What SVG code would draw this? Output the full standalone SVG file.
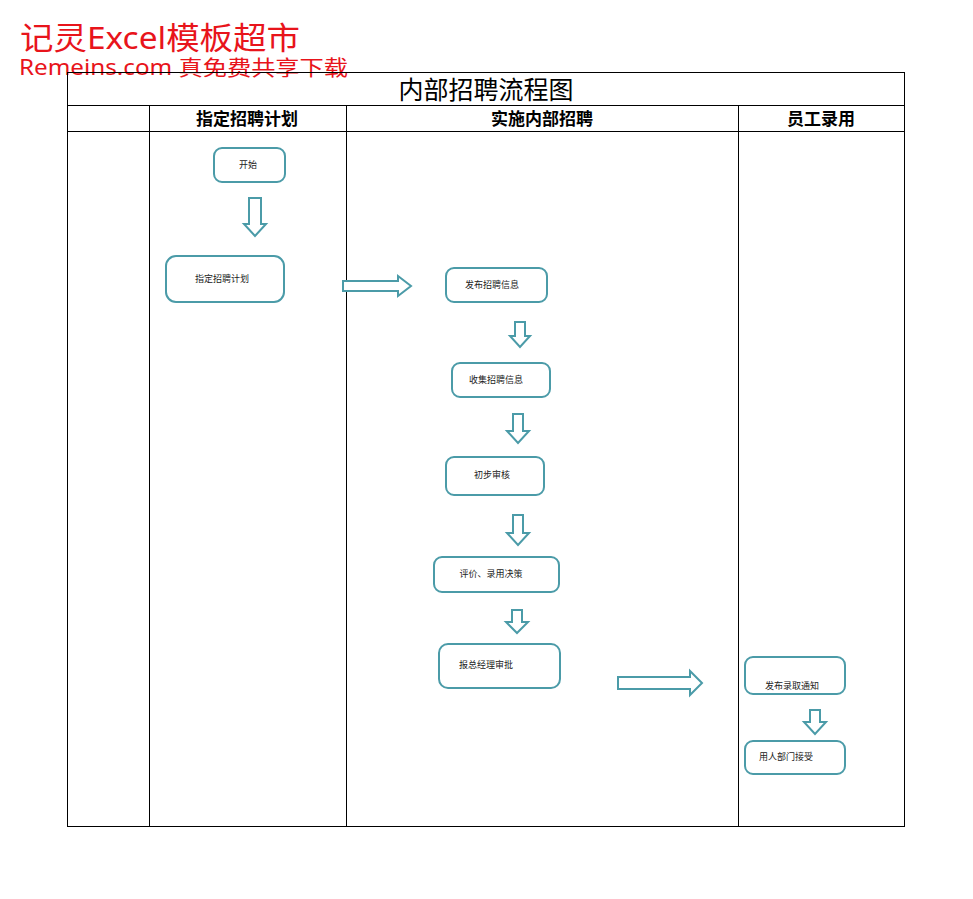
<svg xmlns="http://www.w3.org/2000/svg" width="973" height="899" viewBox="0 0 973 899">
<style>
.ln{stroke:#000;stroke-width:1;fill:none}
.nd{fill:#fff;stroke:#4b9ba8;stroke-width:2}
.ar{fill:#fff;stroke:#4b9ba8;stroke-width:2;stroke-linejoin:miter}
.t{font-family:"Noto Sans CJK SC",sans-serif;font-size:9px;fill:#222;text-anchor:middle}
.h{font-family:"Noto Sans CJK SC",sans-serif;font-size:17px;font-weight:bold;fill:#000;text-anchor:middle}
.wm{font-family:"Noto Sans","Noto Sans CJK SC",sans-serif;fill:#e8141b}
</style>
<rect width="973" height="899" fill="#fff"/>
<text class="wm" x="20" y="49" font-size="31" textLength="280" lengthAdjust="spacingAndGlyphs">记灵Excel模板超市</text>
<text class="wm" x="19" y="75" font-size="21" textLength="329" lengthAdjust="spacingAndGlyphs">Remeins.com 真免费共享下载</text>
<g id="table">
<rect class="ln" x="67.5" y="72.5" width="837" height="754"/>
<line class="ln" x1="67" y1="105.5" x2="905" y2="105.5"/>
<line class="ln" x1="67" y1="131.5" x2="905" y2="131.5"/>
<line class="ln" x1="149.5" y1="105" x2="149.5" y2="826"/>
<line class="ln" x1="346.5" y1="105" x2="346.5" y2="826"/>
<line class="ln" x1="738.5" y1="105" x2="738.5" y2="826"/>
<text x="486" y="99" font-family="Noto Sans CJK SC,sans-serif" font-size="25" text-anchor="middle" fill="#000">内部招聘流程图</text>
<text class="h" x="247" y="125">指定招聘计划</text>
<text class="h" x="542" y="125">实施内部招聘</text>
<text class="h" x="821" y="125">员工录用</text>
</g>
<g id="n1"><rect class="nd" x="214" y="148" width="71" height="34" rx="8"/><text class="t" x="248" y="168">开始</text></g>
<g id="n2"><rect class="nd" x="166" y="256" width="118" height="46" rx="10"/><text class="t" x="222" y="282">指定招聘计划</text></g>
<g id="n3"><rect class="nd" x="446" y="268" width="101" height="34" rx="8"/><text class="t" x="492" y="288">发布招聘信息</text></g>
<g id="n4"><rect class="nd" x="452" y="363" width="98" height="34" rx="8"/><text class="t" x="496" y="383">收集招聘信息</text></g>
<g id="n5"><rect class="nd" x="446" y="457" width="98" height="38" rx="8"/><text class="t" x="492" y="478">初步审核</text></g>
<g id="n6"><rect class="nd" x="434" y="557" width="125" height="35" rx="8"/><text class="t" x="491" y="577">评价、录用决策</text></g>
<g id="n7"><rect class="nd" x="439" y="644" width="121" height="44" rx="9"/><text class="t" x="486" y="668">报总经理审批</text></g>
<g id="n8"><rect class="nd" x="745" y="657" width="100" height="37" rx="8"/><text class="t" x="792" y="689">发布录取通知</text></g>
<g id="n9"><rect class="nd" x="745" y="741" width="100" height="33" rx="8"/><text class="t" x="786" y="760">用人部门接受</text></g>
<g id="connectors">
<polygon class="ar" points="249,198 261,198 261,224 266,224 255,236 244,224 249,224"/>
<polygon class="ar" points="343,281 398,281 398,276 411,286 398,296 398,291 343,291"/>
<polygon class="ar" points="515,322 525,322 525,336 530,336 520,347 510,336 515,336"/>
<polygon class="ar" points="513,414 523,414 523,431 529,431 518,443 507,431 513,431"/>
<polygon class="ar" points="513,515 523,515 523,533 529,533 518,545 507,533 513,533"/>
<polygon class="ar" points="512,610 522,610 522,622 528,622 517,633 506,622 512,622"/>
<polygon class="ar" points="618,677 690,677 690,671 702,683 690,695 690,689 618,689"/>
<polygon class="ar" points="810,710 820,710 820,722 826,722 815,734 804,722 810,722"/>
</g>
</svg>
